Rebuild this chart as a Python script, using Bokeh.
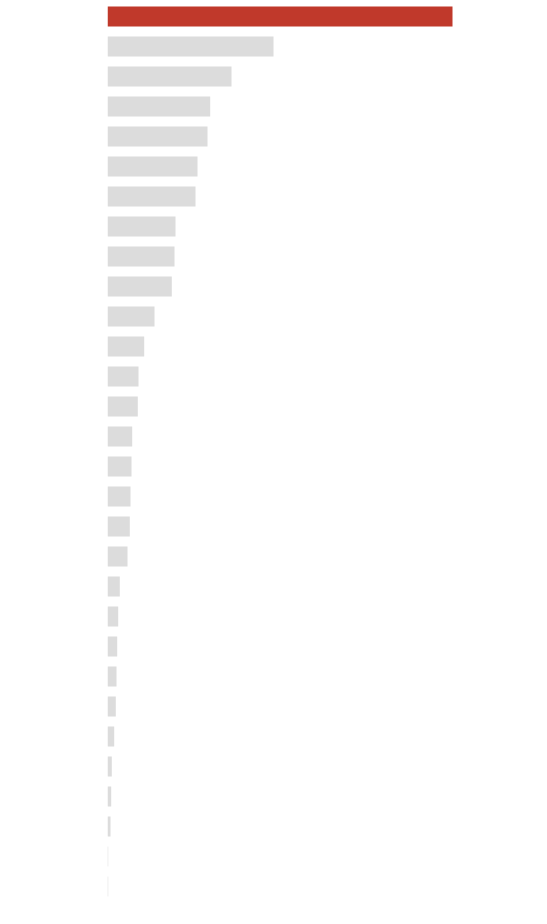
from bokeh.plotting import figure
from bokeh.models import Range1d
from bokeh.embed import file_html
from bokeh.resources import INLINE

ranks = list(range(30))
values = [345, 166, 124, 102.7, 100, 90, 88, 68, 67, 64.3, 47, 36.7, 31, 30.3,
          24.7, 24, 23, 22.3, 20, 12.3, 10.7, 9.7, 9, 8.3, 6.7, 4.3, 3.7, 3, 0.7, 0.7]
highlight = [True] + [False] * 29
colors = ["#c0392b" if h else "#dcdcdc" for h in highlight]

H = 910
top = -16 / 30
p = figure(width=539, height=H, output_backend="svg", toolbar_location=None,
           x_range=Range1d(0, 432), y_range=Range1d(top + H / 30, top),
           min_border_left=107, min_border_right=0, min_border_top=0, min_border_bottom=0)
p.hbar(y=ranks, right=values, left=0, height=2 / 3, fill_color=colors, line_color=None)
p.axis.visible = False
p.grid.visible = False
p.outline_line_color = None
p.background_fill_color = "white"
p.border_fill_color = "white"

open("out.html", "w").write(file_html(p, INLINE))
